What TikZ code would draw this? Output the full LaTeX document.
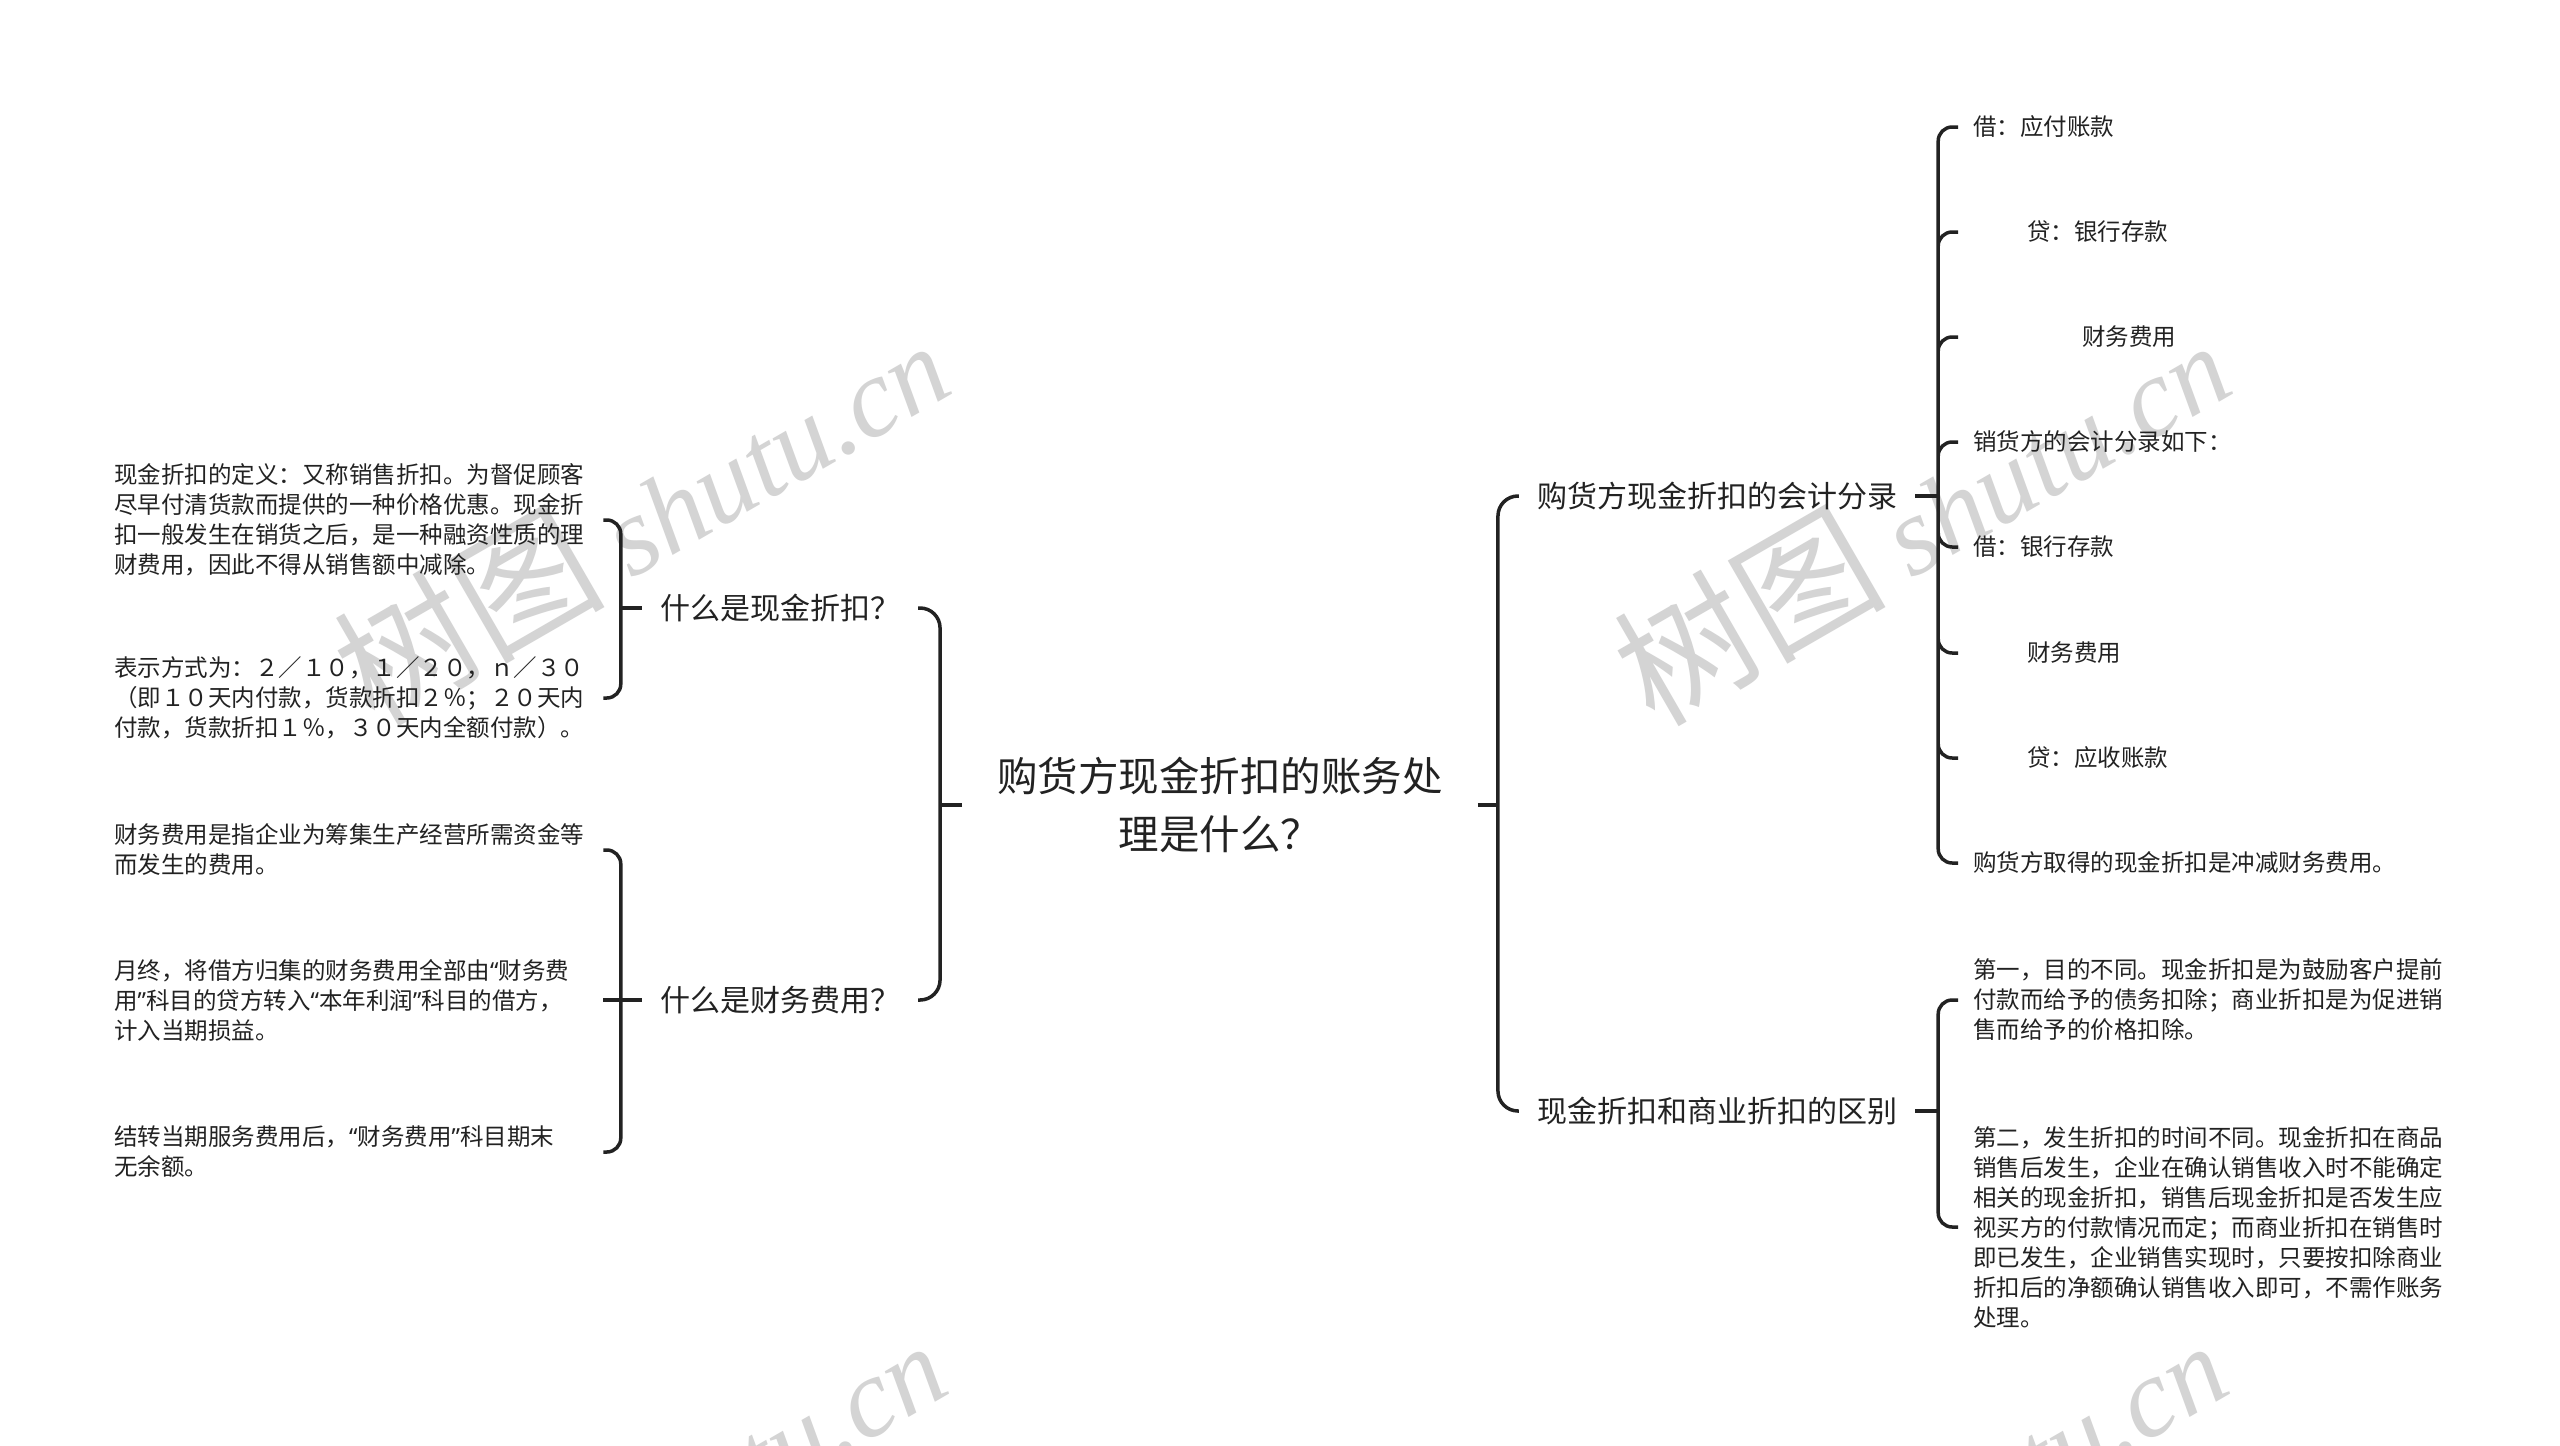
\documentclass[tikz,border=0pt]{standalone}
\usepackage{fontspec}
\setmainfont{Noto Sans CJK SC}
\newfontfamily\wmlatin{Liberation Serif}
\newfontfamily\quotefont{Noto Sans}
\newcommand{\openq}{{\quotefont “}}
\newcommand{\closeq}{{\quotefont ”}}
\usepackage{xcolor}
\definecolor{ink}{RGB}{34,34,34}
\definecolor{wmgray}{RGB}{212,212,212}

\begin{document}
\begin{tikzpicture}[
  x=1pt,y=-1pt,
  rootnode/.style={text=ink,align=center,inner xsep=35pt,inner ysep=4pt,font=\fontsize{40.5}{58}\selectfont},
  topic/.style={text=ink,inner xsep=18pt,inner ysep=4pt,font=\fontsize{30}{36}\selectfont},
  leaf/.style={text=ink,align=left,inner xsep=15pt,inner ysep=3pt,font=\fontsize{23.5}{30}\selectfont},
  leafbox/.style={leaf,text width=474pt},
  link/.style={draw=ink,line width=3.5pt},
  wmark/.style={text=wmgray,rotate=30,inner sep=0pt,font=\fontsize{112}{112}\selectfont},
]
\useasboundingbox (0,0) rectangle (2560,1446);
\fill[white] (0,0) rectangle (2560,1446);
% ---- watermarks ----
\begin{scope}
\clip (0,0) rectangle (2560,1446);
\node[wmark] (wm1) at (640,515)   {{\fontsize{136}{136}\selectfont 树图} {\wmlatin\itshape shutu.cn}};
\node[wmark] (wm2) at (1920,515)  {{\fontsize{136}{136}\selectfont 树图} {\wmlatin\itshape shutu.cn}};
\node[wmark] (wm3) at (637,1515)  {{\fontsize{136}{136}\selectfont 树图} {\wmlatin\itshape shutu.cn}};
\node[wmark] (wm4) at (1917,1515) {{\fontsize{136}{136}\selectfont 树图} {\wmlatin\itshape shutu.cn}};
\end{scope}
% ---- root and main topics ----
\node[rootnode] (root) at (1220,805) {购货方现金折扣的账务处\\理是什么？};
\node[topic] (cash)  at (780,608)   {什么是现金折扣？};
\node[topic] (fee)   at (780,1000)  {什么是财务费用？};
\node[topic] (entry) at (1717,496)  {购货方现金折扣的会计分录};
\node[topic] (diff)  at (1717,1111) {现金折扣和商业折扣的区别};
\draw[link] (root.west) -- ++(-22,0) coordinate (rootL);
\draw[link,rounded corners=20pt] (cash.east) -| (rootL) |- (fee.east);
\draw[link] (root.east) -- ++(20,0) coordinate (rootR);
\draw[link,rounded corners=20pt] (entry.west) -| (rootR) |- (diff.west);
% ---- left leaves ----
\node[leafbox,anchor=west] (def) at (99,520) {现金折扣的定义：又称销售折扣。为督促顾客\\尽早付清货款而提供的一种价格优惠。现金折\\扣一般发生在销货之后，是一种融资性质的理\\财费用，因此不得从销售额中减除。};
\node[leafbox,anchor=west] (fmt) at (99,698) {表示方式为：２／１０，１／２０，ｎ／３０\\（即１０天内付款，货款折扣２％；２０天内\\付款，货款折扣１％，３０天内全额付款）。};
\node[leafbox,anchor=west] (fee1) at (99,850) {财务费用是指企业为筹集生产经营所需资金等\\而发生的费用。};
\node[leafbox,anchor=west] (fee2) at (99,1000) {月终，将借方归集的财务费用全部由\openq 财务费\\用\closeq 科目的贷方转入\openq 本年利润\closeq 科目的借方，\\计入当期损益。};
\node[leafbox,anchor=west] (fee3) at (99,1152) {结转当期服务费用后，\openq 财务费用\closeq 科目期末\\无余额。};
\draw[link] (cash.west) -- ++(-21,0) coordinate (cashJ);
\draw[link,rounded corners=14pt] (def.east) -| (cashJ) |- (fmt.east);
\draw[link] (fee.west) -- ++(-21,0) coordinate (feeJ);
\draw[link,rounded corners=14pt] (fee1.east) -| (feeJ) |- (fee3.east);
\draw[link] (fee2.east) -- (feeJ);
% ---- right leaves: journal entries ----
\node[leaf,anchor=west] (e1) at (1958,127) {借：应付账款};
\node[leaf,anchor=west] (e2) at (1958,232) {\hspace*{54pt}贷：银行存款};
\node[leaf,anchor=west] (e3) at (1958,337) {\hspace*{109pt}财务费用};
\node[leaf,anchor=west] (e4) at (1958,442) {销货方的会计分录如下：};
\node[leaf,anchor=west] (e5) at (1958,547) {借：银行存款};
\node[leaf,anchor=west] (e6) at (1958,653) {\hspace*{54pt}财务费用};
\node[leaf,anchor=west] (e7) at (1958,758) {\hspace*{54pt}贷：应收账款};
\node[leaf,anchor=west] (e8) at (1958,863) {购货方取得的现金折扣是冲减财务费用。};
\draw[link] (entry.east) -- ++(23,0) coordinate (entryJ);
\draw[link,rounded corners=14pt] (entryJ) |- (e1.west) (entryJ) |- (e2.west)
  (entryJ) |- (e3.west) (entryJ) |- (e4.west) (entryJ) |- (e5.west)
  (entryJ) |- (e6.west) (entryJ) |- (e7.west) (entryJ) |- (e8.west);
% ---- right leaves: differences ----
\node[leafbox,anchor=west] (d1) at (1958,1000) {第一，目的不同。现金折扣是为鼓励客户提前\\付款而给予的债务扣除；商业折扣是为促进销\\售而给予的价格扣除。};
\node[leafbox,anchor=west] (d2) at (1958,1227) {第二，发生折扣的时间不同。现金折扣在商品\\销售后发生，企业在确认销售收入时不能确定\\相关的现金折扣，销售后现金折扣是否发生应\\视买方的付款情况而定；而商业折扣在销售时\\即已发生，企业销售实现时，只要按扣除商业\\折扣后的净额确认销售收入即可，不需作账务\\处理。};
\draw[link] (diff.east) -- ++(23,0) coordinate (diffJ);
\draw[link,rounded corners=14pt] (diffJ) |- (d1.west) (diffJ) |- (d2.west);
\end{tikzpicture}
\end{document}
